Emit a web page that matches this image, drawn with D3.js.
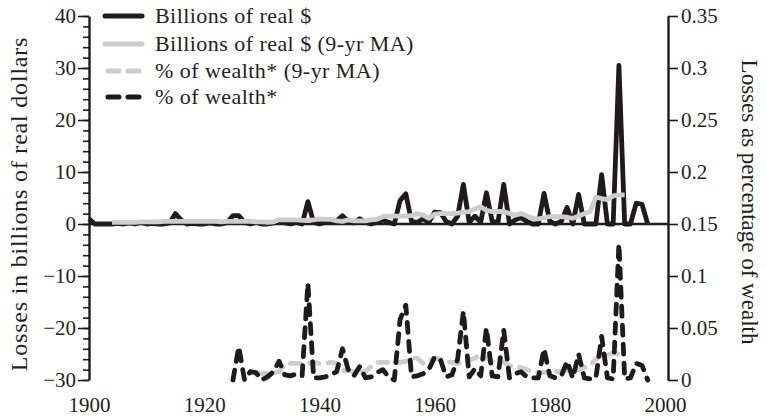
<!DOCTYPE html>
<html lang="en">
<head>
  <meta charset="UTF-8">
  <title>Losses in billions and as percentage of wealth</title>
  <script src="https://d3js.org/d3.v7.min.js"></script>
  <style>
    body { margin: 0; background: #fff; }
    text { font-family: "Liberation Serif", "DejaVu Serif", serif; fill: #231f20; }
  </style>
</head>
<body>

<div id="chart"></div>

<script>
  // ---- data (annual values) ----
  const billionsStart = 1900;
  const billions = [
    1.0, 0, 0, 0, 0, 0.1, 0, 0.2, 0, 0.3,
    0, 0.1, 0, 0, 0.2, 2.0, 0.8, 0, 0.1, 0,
    0, 0.2, 0, 0, 0.3, 1.6, 1.6, 0.3, 0, 0.3,
    0, 0, 0.2, 0.6, 0.2, 0, 0.3, 0, 4.3, 0.3,
    0, 0.3, 0.5, 0.6, 1.6, 0.5, 0.2, 1.0, 0.3, 0,
    0.3, 0.8, 0.3, 0, 4.5, 5.8, 0.5, 0.3, 1.0, 0.3,
    2.3, 2.2, 0.5, 0, 1.5, 7.6, 0.3, 1.5, 0.3, 6.0,
    0.5, 0.3, 7.6, 0, 0.8, 1.2, 0.5, 0, 0, 5.9,
    0.5, 0, 0.5, 3.2, 0, 5.7, 0, 0, 0, 9.5,
    0, 0, 30.5, 0, 0, 4.0, 3.8, 0
  ];

  const billionsMAStart = 1904;
  const billionsMA = [
    0.3, 0.3, 0.3, 0.3, 0.3, 0.4, 0.4, 0.4, 0.4, 0.5,
    0.5, 0.5, 0.5, 0.5, 0.5, 0.5, 0.5, 0.5, 0.5, 0.4,
    0.5, 0.5, 0.5, 0.5, 0.5, 0.4, 0.4, 0.3, 0.4, 0.8,
    0.8, 0.8, 0.8, 0.7, 0.7, 0.8, 1.0, 0.9, 0.9, 0.6,
    0.5, 0.8, 0.6, 0.6, 0.6, 0.8, 0.9, 1.4, 1.5, 1.5,
    1.5, 1.5, 1.6, 2.0, 1.7, 1.1, 1.9, 2.0, 2.0, 2.0,
    2.1, 2.3, 2.4, 2.9, 3.3, 2.6, 2.4, 2.4, 2.4, 2.0,
    1.7, 2.0, 1.6, 1.1, 1.0, 1.2, 1.4, 1.4, 1.4, 1.3,
    1.1, 1.5, 2.0, 2.4, 5.2, 4.9, 4.7, 5.4, 5.6, 5.6
  ];

  const wealthStart = 1925;
  const wealthPct = [
    0, 0.032, 0.0, 0.008, 0.007, 0.0, 0.003, 0.008, 0.018, 0.005,
    0.004, 0.006, 0.004, 0.093, 0.002, 0.002, 0.003, 0.005, 0.008, 0.030,
    0.010, 0.004, 0.013, 0.002, 0.003, 0.007, 0.010, 0.003, 0.0, 0.058,
    0.072, 0.003, 0.004, 0.006, 0.010, 0.022, 0.020, 0.003, 0.005, 0.020,
    0.066, 0.003, 0.011, 0.004, 0.050, 0.004, 0.003, 0.048, 0.002, 0.006,
    0.008, 0.003, 0.002, 0.002, 0.030, 0.004, 0.002, 0.004, 0.018, 0.002,
    0.025, 0.002, 0.001, 0.002, 0.042, 0.002, 0.001, 0.131, 0.001, 0.002,
    0.016, 0.014, 0.0
  ];

  const wealthMAStart = 1929;
  const wealthMA = [
    0.006, 0.006, 0.007, 0.007, 0.008, 0.015, 0.016, 0.016, 0.016, 0.016,
    0.017, 0.016, 0.016, 0.017, 0.016, 0.009, 0.009, 0.008, 0.008, 0.008,
    0.013, 0.017, 0.017, 0.017, 0.017, 0.017, 0.018, 0.021, 0.021, 0.016,
    0.019, 0.021, 0.020, 0.018, 0.017, 0.016, 0.016, 0.019, 0.021, 0.025,
    0.021, 0.018, 0.018, 0.017, 0.014, 0.012, 0.012, 0.010, 0.008, 0.007,
    0.007, 0.008, 0.008, 0.008, 0.009, 0.009, 0.010, 0.012, 0.014, 0.020,
    0.024, 0.024, 0.026, 0.025, 0.025
  ];

  const leftTicks = [-30, -20, -10, 0, 10, 20, 30, 40];
  const rightTicks = [0, 0.05, 0.1, 0.15, 0.2, 0.25, 0.3, 0.35];
  const yearTicks = [1900, 1920, 1940, 1960, 1980, 2000];

  const legendLabels = [
    "Billions of real $",
    "Billions of real $ (9-yr MA)",
    "% of wealth* (9-yr MA)",
    "% of wealth*"
  ];

  // ---- layout ----
  const width = 767, height = 418;
  const plotLeft = 89, plotRight = 668, plotTop = 16, plotBottom = 380;

  const svg = d3.select("#chart").append("svg")
      .attr("width", width)
      .attr("height", height);

  const x = d3.scaleLinear().domain([1900, 2000]).range([plotLeft, 665]);
  const yLeft = d3.scaleLinear().domain([-30, 40]).range([plotBottom, plotTop]);
  const yRight = d3.scaleLinear().domain([0, 0.35]).range([plotBottom, plotTop]);

  const toPoints = (start, arr) => arr.map((v, i) => ({year: start + i, value: v}));

  const black = "#1d1b1c", grey = "#cdcdcd";
  const tickFont = 21;

  // ---- axes ----
  const axisStroke = 2.4;

  // minor ticks on the left axis
  const minor = svg.append("g")
      .attr("transform", `translate(${plotLeft},0)`)
      .call(d3.axisLeft(yLeft).tickValues(d3.range(-30, 41, 2)).tickSize(6).tickFormat(""));
  minor.select(".domain").remove();
  minor.selectAll("line").attr("stroke", black).attr("stroke-width", 1.6);

  const leftAxis = svg.append("g")
      .attr("transform", `translate(${plotLeft},0)`)
      .call(d3.axisLeft(yLeft).tickValues(leftTicks).tickSize(11).tickSizeOuter(0).tickPadding(2));
  leftAxis.select(".domain").attr("stroke", black).attr("stroke-width", axisStroke);
  leftAxis.selectAll("line").attr("stroke", black).attr("stroke-width", 1.6);
  leftAxis.selectAll("text").attr("font-size", tickFont).style("font-family", "Liberation Serif");

  const rightAxis = svg.append("g")
      .attr("transform", `translate(${plotRight},0)`)
      .call(d3.axisRight(yRight).tickValues(rightTicks).tickSize(10).tickSizeOuter(0).tickPadding(3)
        .tickFormat(d => String(+d.toFixed(2))));
  rightAxis.select(".domain").attr("stroke", black).attr("stroke-width", axisStroke);
  rightAxis.selectAll("line").attr("stroke", black).attr("stroke-width", 1.6);
  rightAxis.selectAll("text").attr("font-size", tickFont).style("font-family", "Liberation Serif");

  const bottomAxis = svg.append("g")
      .attr("transform", `translate(0,${plotBottom + 17})`)
      .call(d3.axisBottom(x).tickValues(yearTicks).tickSize(0).tickPadding(0).tickFormat(d3.format("d")));
  bottomAxis.select(".domain").remove();
  bottomAxis.selectAll("text").attr("font-size", tickFont).style("font-family", "Liberation Serif");

  // zero line
  svg.append("line")
      .attr("x1", plotLeft).attr("x2", plotRight)
      .attr("y1", yLeft(0)).attr("y2", yLeft(0))
      .attr("stroke", black).attr("stroke-width", axisStroke);

  // axis titles
  svg.append("text")
      .attr("transform", `translate(27,204) rotate(-90)`)
      .attr("text-anchor", "middle")
      .attr("font-size", 24)
      .attr("letter-spacing", 0.8)
      .text("Losses in billions of real dollars");

  svg.append("text")
      .attr("transform", `translate(742,202) rotate(90)`)
      .attr("text-anchor", "middle")
      .attr("font-size", 23)
      .text("Losses as percentage of wealth");

  // ---- lines ----
  const lineLeft = d3.line().x(d => x(d.year)).y(d => yLeft(d.value));
  const lineRight = d3.line().x(d => x(d.year)).y(d => yRight(d.value));

  const series = [
    {pts: toPoints(billionsStart, billions), line: lineLeft, color: black, dash: null},
    {pts: toPoints(billionsMAStart, billionsMA), line: lineLeft, color: grey, dash: null},
    {pts: toPoints(wealthMAStart, wealthMA), line: lineRight, color: grey, dash: "10,9"},
    {pts: toPoints(wealthStart, wealthPct), line: lineRight, color: black, dash: "10,9"}
  ];

  series.forEach(s => {
    svg.append("path")
        .datum(s.pts)
        .attr("fill", "none")
        .attr("stroke", s.color)
        .attr("stroke-width", 4.8)
        .attr("stroke-linejoin", "round")
        .attr("stroke-linecap", s.dash ? "round" : "butt")
        .attr("stroke-dasharray", s.dash)
        .attr("d", s.line);
  });

  // ---- legend ----
  const legend = svg.append("g");
  const legendRows = [16, 44, 71, 97];
  legendLabels.forEach((label, i) => {
    const s = series[i];
    legend.append("line")
        .attr("x1", s.dash ? 108 : 105).attr("x2", s.dash ? 139 : 142)
        .attr("y1", legendRows[i]).attr("y2", legendRows[i])
        .attr("stroke", s.color)
        .attr("stroke-width", 5)
        .attr("stroke-linecap", "round")
        .attr("stroke-dasharray", s.dash ? "11,9" : null);
    legend.append("text")
        .attr("x", 155)
        .attr("y", legendRows[i] + 7)
        .attr("font-size", 22)
        .attr("letter-spacing", 0.45)
        .text(label);
  });
</script>

</body>
</html>
